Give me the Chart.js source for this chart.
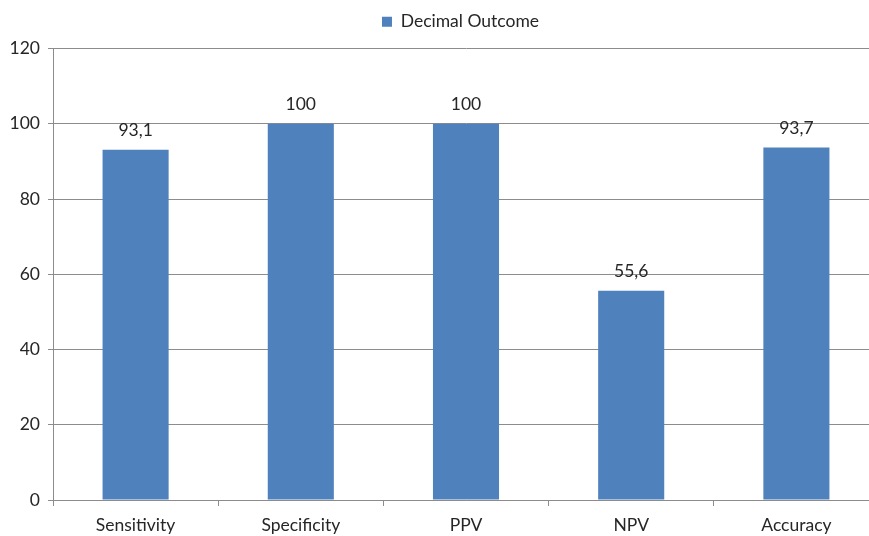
<!DOCTYPE html>
<html>
<head>
<meta charset="utf-8">
<script src="https://cdn.jsdelivr.net/npm/chart.js@4"></script>
<style>
  html, body { margin: 0; padding: 0; background: #fff; overflow: hidden; }
  /* the plot runs a few pixels past the right edge of the window, as in the source */
  #wrap { width: 879px; height: 536px; position: relative; }
</style>
</head>
<body>
<div id="wrap"><canvas id="outcomeChart"></canvas></div>
<script>
const categories = ["Sensitivity", "Specificity", "PPV", "NPV", "Accuracy"];
const outcomeValues = [93.1, 100, 100, 55.6, 93.7];
const valueLabels = ["93,1", "100", "100", "55,6", "93,7"];
const seriesName = "Decimal Outcome";

const FONT = "Lato, 'Open Sans', sans-serif";
const TEXT = "#262626";
const GRID = "#8c8c8c";

// labels over the bars
const barLabels = {
  id: "barLabels",
  afterDatasetsDraw(chart) {
    const { ctx } = chart;
    const meta = chart.getDatasetMeta(0);
    ctx.save();
    ctx.font = "17.5px " + FONT;
    ctx.fillStyle = TEXT;
    ctx.textAlign = "center";
    ctx.textBaseline = "middle";
    meta.data.forEach((bar, i) => {
      ctx.fillText(valueLabels[i], bar.x, bar.y - 19);
    });
    ctx.restore();
  },
};

// more room under the legend, and centre it over the plot rather than the canvas
const legendGap = {
  id: "legendGap",
  afterInit(chart) {
    const legend = chart.legend;
    if (!legend) return;
    const fit = legend.fit.bind(legend);
    legend.fit = function () {
      fit();
      this.height += 8;
    };
  },
  afterLayout(chart) {
    if (!chart.legend) return;
    chart.legend.left += 21;
    chart.legend.right += 21;
  },
};

new Chart(document.getElementById("outcomeChart"), {
  type: "bar",
  data: {
    labels: categories,
    datasets: [
      {
        label: seriesName,
        data: outcomeValues,
        backgroundColor: "#4f81bd",
        barPercentage: 0.4,
        categoryPercentage: 1,
      },
    ],
  },
  plugins: [barLabels, legendGap],
  options: {
    responsive: true,
    maintainAspectRatio: false,
    animation: false,
    layout: { padding: { top: 0, right: 0, bottom: 0, left: 0 } },
    plugins: {
      tooltip: { enabled: false },
      legend: {
        position: "top",
        labels: {
          boxWidth: 10,
          boxHeight: 10,
          padding: 13,
          color: TEXT,
          font: { family: FONT, size: 17.5 },
        },
      },
    },
    scales: {
      x: {
        grid: { drawOnChartArea: false, drawTicks: true, tickLength: 6, color: GRID, offset: true },
        border: { color: GRID },
        ticks: { color: TEXT, font: { family: FONT, size: 17.5 }, padding: 9 },
        afterFit: (s) => { s.height = 36; },
      },
      y: {
        min: 0,
        max: 120,
        ticks: { stepSize: 20, color: TEXT, font: { family: FONT, size: 17.5 }, padding: 8 },
        grid: { color: GRID, tickLength: 5 },
        border: { color: GRID },
        afterFit: (s) => { s.width = 53; },
      },
    },
  },
});
</script>
</body>
</html>
